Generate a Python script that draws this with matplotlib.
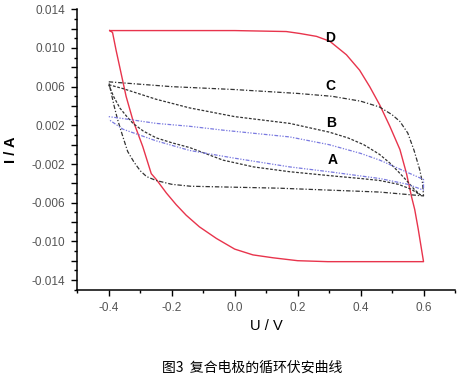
import matplotlib
matplotlib.use('Agg')
import matplotlib.pyplot as plt
from matplotlib.ticker import MultipleLocator, FixedLocator, FuncFormatter

plt.rcParams['font.family'] = ['Liberation Sans', 'Noto Sans CJK SC', 'DejaVu Sans']

# 曲线 D (红色实线), 按回路顺序
d_u = [-0.397, -0.20, 0.00, 0.164, 0.207, 0.26, 0.302, 0.355, 0.397, 0.429, 0.461, 0.493, 0.525, 0.546,
       0.562, 0.572, 0.583, 0.592, 0.60,
       0.45, 0.296, 0.20, 0.122, 0.058, 0.00, -0.058, -0.112, -0.154, -0.186, -0.217, -0.249, -0.265,
       -0.292, -0.324, -0.345, -0.361, -0.377, -0.388, -0.397]
d_i = [0.0118, 0.0118, 0.0118, 0.0117, 0.0115, 0.0112, 0.0107, 0.0093, 0.0077, 0.0060, 0.0041, 0.0019,
       -0.0005, -0.0030, -0.0054, -0.0067, -0.0087, -0.0105, -0.0121,
       -0.0121, -0.0121, -0.0120, -0.0117, -0.0114, -0.0108, -0.0097, -0.0085, -0.0073, -0.0062, -0.0050,
       -0.0036, -0.0030, -0.0002, 0.0026, 0.0050, 0.0074, 0.0098, 0.0116, 0.0118]

# 曲线 C (外层点划线)
c_u = [-0.40, -0.36, -0.20, 0.00, 0.20, 0.31, 0.40, 0.46, 0.50, 0.525, 0.55, 0.57, 0.588, 0.597, 0.60,
       0.46, 0.30, 0.14, 0.00, -0.14, -0.20, -0.25, -0.28, -0.30, -0.32, -0.34, -0.355, -0.372, -0.383,
       -0.392, -0.40]
c_i = [0.0065, 0.0064, 0.0060, 0.0057, 0.0053, 0.0050, 0.0045, 0.0039, 0.0031, 0.0024, 0.0012, -0.0006,
       -0.0026, -0.0040, -0.0053,
       -0.0049, -0.0047, -0.0045, -0.0044, -0.0043, -0.0041, -0.0037, -0.0033, -0.0027, -0.0018, -0.0007,
       0.0008, 0.0026, 0.0040, 0.0053, 0.0065]

# 曲线 B (内层虚线)
b_u = [-0.40, -0.355, -0.25, -0.143, 0.00, 0.175, 0.30, 0.36, 0.41, 0.46, 0.493, 0.52, 0.546, 0.57, 0.59,
       0.56, 0.52, 0.46, 0.40, 0.30, 0.175, 0.06, -0.037, -0.143, -0.20, -0.249, -0.29, -0.323, -0.345,
       -0.365, -0.385, -0.40]
b_i = [0.0062, 0.0058, 0.0047, 0.0038, 0.0029, 0.0022, 0.0013, 0.0007, 0.0000, -0.0010, -0.0019, -0.0028,
       -0.0037, -0.0046, -0.0052,
       -0.0046, -0.0041, -0.0037, -0.0035, -0.0032, -0.0028, -0.0023, -0.0016, -0.0003, 0.0002, 0.0007,
       0.0014, 0.0022, 0.0030, 0.0038, 0.0050, 0.0062]

# 曲线 A (蓝色点线)
a_u = [-0.40, -0.355, -0.249, -0.143, -0.037, 0.175, 0.30, 0.40, 0.461, 0.53, 0.60, 0.60,
       0.55, 0.461, 0.30, 0.175, 0.00, -0.143, -0.25, -0.355, -0.40]
a_i = [0.0029, 0.0027, 0.0022, 0.0019, 0.0015, 0.0008, 0.0000, -0.0009, -0.0016, -0.0026, -0.0036, -0.0047,
       -0.0041, -0.0035, -0.0028, -0.0023, -0.0014, -0.0006, 0.0004, 0.0016, 0.0026]

labels = ['A', 'B', 'C', 'D']
label_u = [0.312, 0.305, 0.305, 0.302]
label_i = [-0.0016, 0.0022, 0.0061, 0.0110]

fig = plt.figure(figsize=(4.63, 3.79), dpi=100)
ax = fig.add_axes([77.3 / 463, 1 - 289.7 / 379, (455 - 77.3) / 463, (289.7 - 9.3) / 379])

ax.plot(d_u, d_i, color='#e8344c', lw=1.0)
ax.plot(c_u, c_i, color='#333333', lw=0.9, ls=(0, (3.5, 1.5, 1, 1.5)))
ax.plot(b_u, b_i, color='#333333', lw=0.9, ls=(0, (2.2, 1.3)))
ax.plot(a_u, a_i, color='#7a7ae0', lw=0.9, ls=(0, (1, 1.2, 1, 1.2, 3, 1.2)))

for t, u, i in zip(labels, label_u, label_i):
    ax.text(u, i, t, fontsize=10, fontweight='bold', ha='center', va='center')

ax.set_xlim(-0.5, 0.7)
ax.set_ylim(-0.015, 0.014)

ax.spines['top'].set_visible(False)
ax.spines['right'].set_visible(False)
ax.spines['left'].set_linewidth(1.1)
ax.spines['bottom'].set_linewidth(1.1)

ax.xaxis.set_major_locator(FixedLocator([-0.4, -0.2, 0.0, 0.2, 0.4, 0.6]))
ax.xaxis.set_minor_locator(FixedLocator([-0.5, -0.3, -0.1, 0.1, 0.3, 0.5, 0.7]))
ax.xaxis.set_major_formatter(FuncFormatter(lambda v, p: '%.1f' % v))

yt = [0.014 - 0.002 * k for k in range(15)]
ax.yaxis.set_major_locator(FixedLocator(yt))
ax.yaxis.set_minor_locator(MultipleLocator(0.001))
ax.yaxis.set_major_formatter(FuncFormatter(
    lambda v, p: ('%.3f' % v) if round((0.014 - v) / 0.002) % 2 == 0 else ''))

ax.tick_params(which='major', direction='out', length=4.5, width=1.0, labelsize=8.5,
               labelcolor='#555555', pad=4)
ax.tick_params(which='minor', direction='out', length=2.2, width=1.0)

ax.set_xlabel('U / V', fontsize=10.5, va='center')
ax.set_ylabel('I / A', fontsize=10.5, fontweight='bold', va='center')
ax.xaxis.set_label_coords(0.5, (289.7 - 326) / 280.4)
ax.yaxis.set_label_coords((11 - 77.3) / 377.7, 0.5)

fig.text(252 / 463, 1 - 368 / 379, '图3  复合电极的循环伏安曲线', fontsize=10,
         family=['Noto Sans CJK SC', 'DejaVu Sans'], ha='center', va='center')

fig.savefig('out.png', dpi=100)
